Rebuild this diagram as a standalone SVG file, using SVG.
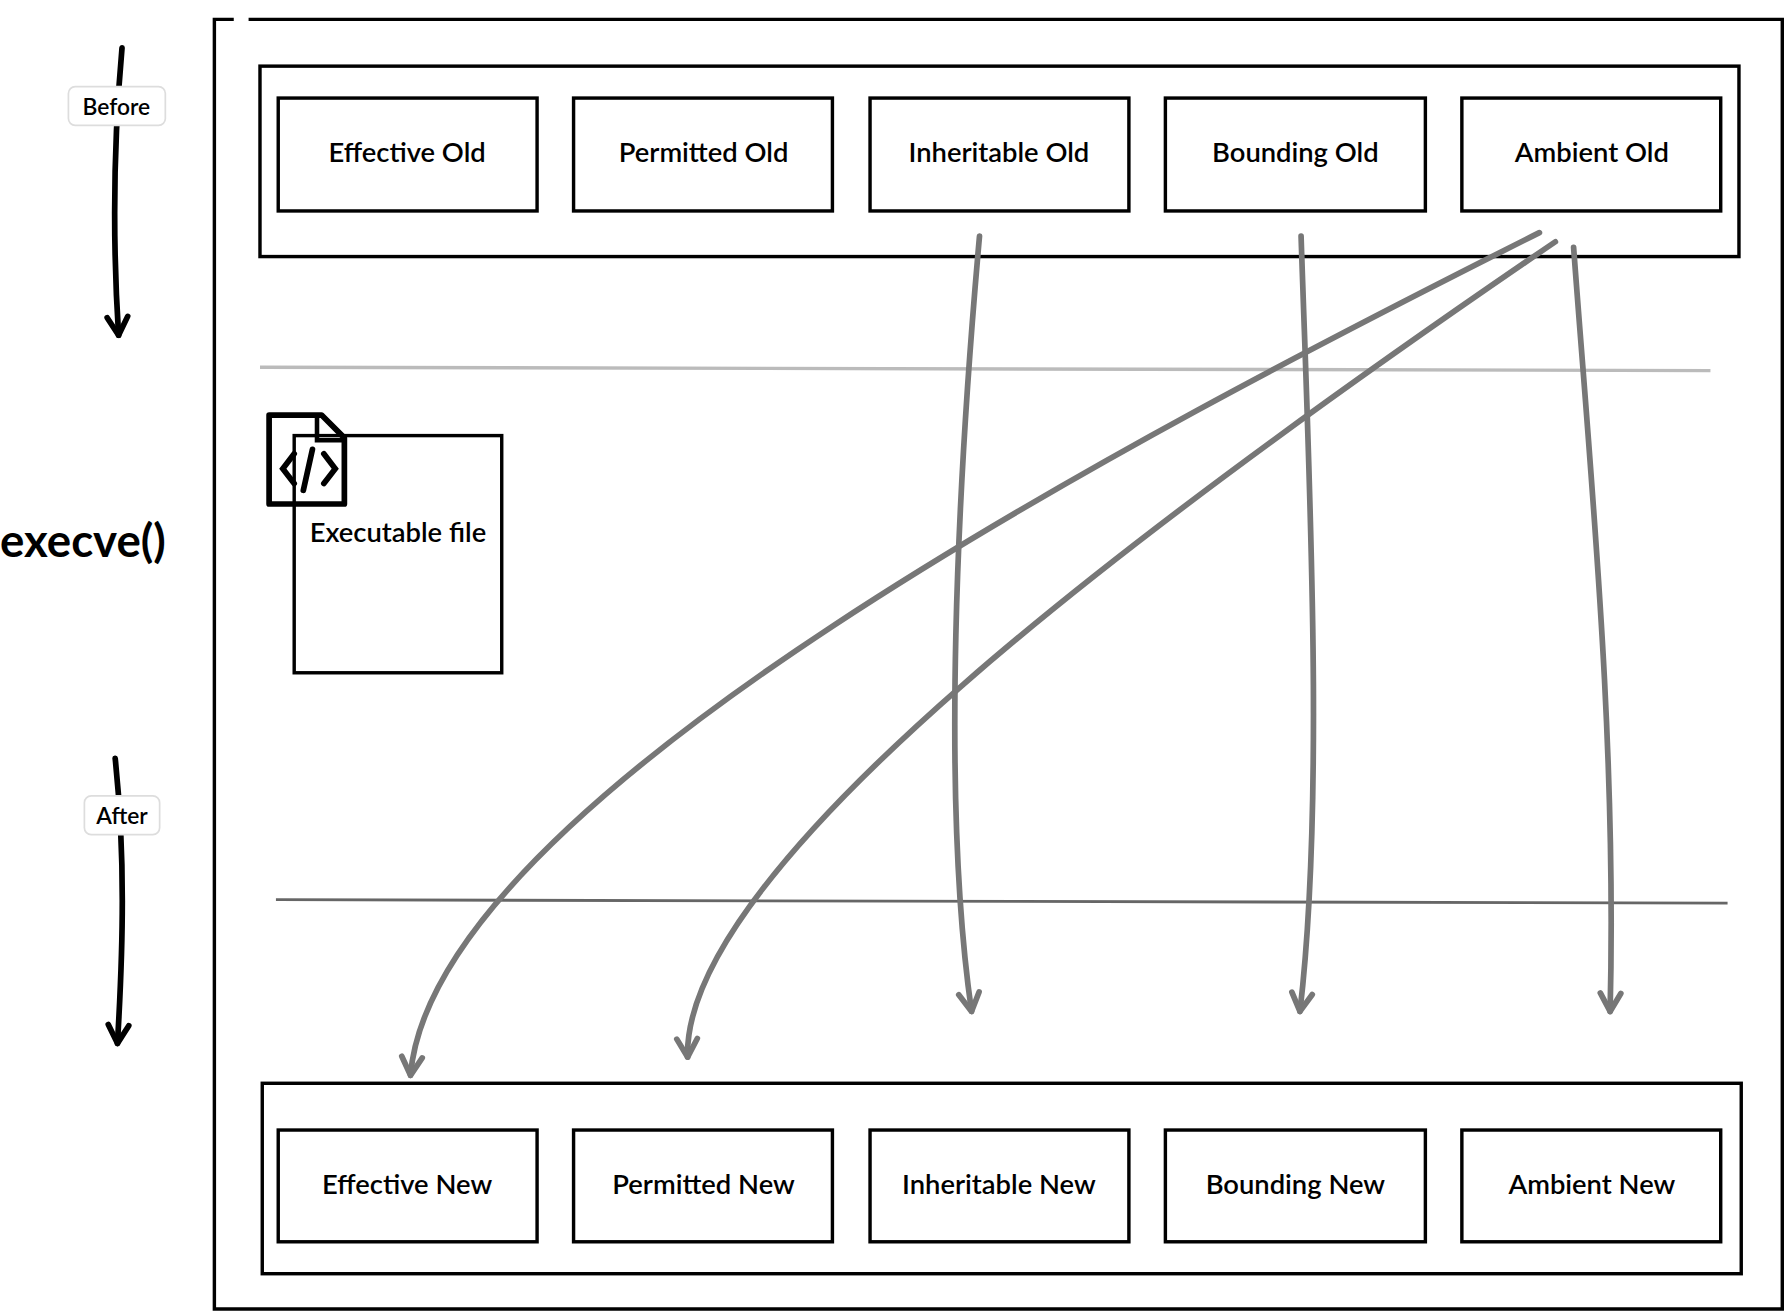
<svg xmlns="http://www.w3.org/2000/svg" width="1788" height="1314" viewBox="0 0 1788 1314">
<defs>
<style>
.box{fill:#fff;stroke:#000;stroke-width:3}
.t{font-family:Lato,"Noto Sans",sans-serif;font-size:24px;font-weight:600;text-anchor:middle;dominant-baseline:central;fill:#000}
.g{fill:none;stroke:#777;stroke-width:5;stroke-linecap:round}
.k{fill:none;stroke:#000;stroke-width:5;stroke-linecap:round}
.lbl{fill:#fff;stroke:#ddd;stroke-width:1.5}
</style>
<marker id="ag" markerUnits="userSpaceOnUse" markerWidth="40" markerHeight="40" refX="0" refY="0" viewBox="-20 -20 40 40" orient="auto" style="overflow:visible">
<path d="M-16,-9 L0,0 L-16,9" fill="none" stroke="#777" stroke-width="5" stroke-linecap="round" stroke-linejoin="round"/>
</marker>
<marker id="ak" markerUnits="userSpaceOnUse" markerWidth="40" markerHeight="40" refX="0" refY="0" viewBox="-20 -20 40 40" orient="auto" style="overflow:visible">
<path d="M-16,-9 L0,0 L-16,9" fill="none" stroke="#000" stroke-width="5" stroke-linecap="round" stroke-linejoin="round"/>
</marker>
</defs>
<rect width="1788" height="1314" fill="#fff"/>
<g transform="scale(1.1403 1.1403)">
<g id="frame">
<path d="M205,17 L188,17 L188,1148 L1563,1148 L1563,17 L218,17" fill="none" stroke="#000" stroke-width="3"/>
</g>
<g id="top-container"><rect x="228" y="58" width="1297" height="167" class="box"/></g>
<g id="effective-old"><rect x="244" y="86" width="227" height="99" class="box"/><text x="357" y="133" class="t">Effective Old</text></g>
<g id="permitted-old"><rect x="503" y="86" width="227" height="99" class="box"/><text x="617" y="133" class="t">Permitted Old</text></g>
<g id="inheritable-old"><rect x="763" y="86" width="227" height="99" class="box"/><text x="876" y="133" class="t">Inheritable Old</text></g>
<g id="bounding-old"><rect x="1022" y="86" width="228" height="99" class="box"/><text x="1136" y="133" class="t">Bounding Old</text></g>
<g id="ambient-old"><rect x="1282" y="86" width="227" height="99" class="box"/><text x="1396" y="133" class="t">Ambient Old</text></g>
<g id="bottom-container"><rect x="230" y="950" width="1297" height="167" class="box"/></g>
<g id="effective-new"><rect x="244" y="991" width="227" height="98" class="box"/><text x="357" y="1038" class="t">Effective New</text></g>
<g id="permitted-new"><rect x="503" y="991" width="227" height="98" class="box"/><text x="617" y="1038" class="t">Permitted New</text></g>
<g id="inheritable-new"><rect x="763" y="991" width="227" height="98" class="box"/><text x="876" y="1038" class="t">Inheritable New</text></g>
<g id="bounding-new"><rect x="1022" y="991" width="228" height="98" class="box"/><text x="1136" y="1038" class="t">Bounding New</text></g>
<g id="ambient-new"><rect x="1282" y="991" width="227" height="98" class="box"/><text x="1396" y="1038" class="t">Ambient New</text></g>
<g id="separators">
<line x1="228" y1="322" x2="1500" y2="325" stroke="#bbb" stroke-width="3"/>
<line x1="242" y1="789" x2="1515" y2="792" stroke="#666" stroke-width="2.5"/>
</g>
<g id="executable">
<rect x="258" y="382" width="182" height="208" class="box"/>
<path d="M236,364 L282,364 L302,384 L302,442 L236,442 Z" fill="none" stroke="#000" stroke-width="5" stroke-linejoin="round"/>
<path d="M278,366 L278,386 L300,386" fill="none" stroke="#000" stroke-width="4"/>
<path d="M258,398 L248,411 L258,424 M284,398 L294,411 L284,424 M274,394 L266,430" class="k" stroke-width="4"/>
<text x="349" y="466" class="t">Executable file</text>
</g>
<g id="execve"><text x="0" y="473" class="t" style="font-size:40px;font-weight:bold;text-anchor:start">execve()</text></g>
<g id="connectors">
<path d="M107,42 C100,120 98,200 104,294" class="k" marker-end="url(#ak)"/>
<path d="M101,665 C110,750 108,830 103,915" class="k" marker-end="url(#ak)"/>
<path d="M859,207 C840,420 825,700 852,887" class="g" marker-end="url(#ag)"/>
<path d="M1141,207 C1148,420 1162,700 1140,887" class="g" marker-end="url(#ag)"/>
<path d="M1380,217 C1395,420 1418,650 1412,887" class="g" marker-end="url(#ag)"/>
<path d="M1350,204 C1000,380 380,700 360,943" class="g" marker-end="url(#ag)"/>
<path d="M1364,212 C1000,460 598,760 603,927" class="g" marker-end="url(#ag)"/>
</g>
<g id="label-before"><rect x="60" y="76" width="85" height="34" rx="6" class="lbl"/><text x="102" y="93" class="t" style="font-size:20px">Before</text></g>
<g id="label-after"><rect x="74" y="698" width="66" height="34" rx="6" class="lbl"/><text x="107" y="715" class="t" style="font-size:20px">After</text></g>
</g>
</svg>
